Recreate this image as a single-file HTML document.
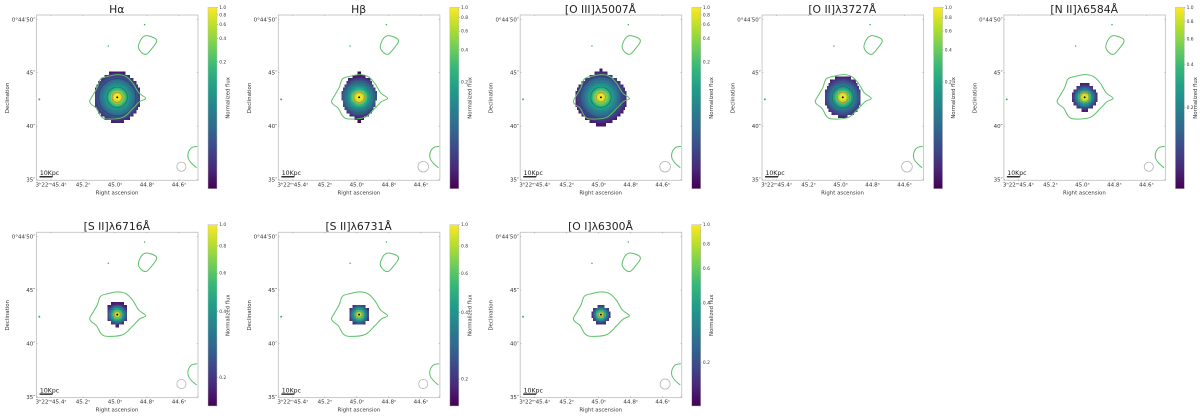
<!DOCTYPE html>
<html lang="en">
<head>
<meta charset="utf-8">
<title>Normalized emission line flux maps</title>
<style>
html,body{margin:0;padding:0;background:#fff;width:1200px;height:416px;overflow:hidden}
svg{display:block;font-family:"DejaVu Sans","Liberation Sans",sans-serif;filter:blur(0.3px)}
</style>
</head>
<body>
<svg id="chart" xmlns="http://www.w3.org/2000/svg" width="1200" height="416" viewBox="0 0 1200 416">
  <defs id="defs"></defs>
</svg>
<script>
const panelTitles = ["Hα","Hβ","[O III]λ5007Å","[O II]λ3727Å","[N II]λ6584Å","[S II]λ6716Å","[S II]λ6731Å","[O I]λ6300Å"];
const panelRows = [0,0,0,0,0,1,1,1];
const panelCols = [0,1,2,3,4,0,1,2];
const raTicks = [45.4,45.2,45.0,44.8,44.6];
const raTickLabels = ["3ʰ22ᵐ45.4ˢ","45.2ˢ","45.0ˢ","44.8ˢ","44.6ˢ"];
const decTicks = [50,45,40,35];
const decTickLabels = ["0°44′50″","45″","40″","35″"];
const cbarTicks = [1.0,0.8,0.6,0.4,0.2];
const cbarMin = [0.0047,0.02,0.0047,0.02,0.054,0.148,0.151,0.12];

const blobRa = 44.986;
const blobDec = 42.7;
const radiiArcsec = [0,0.25,0.5,0.75,1,1.5,2,2.5];
const fluxHa = [1,0.9,0.45,0.19,0.09,0.036,0.0137,0.0055];
const fluxHb = [1,0.9,0.55,0.26,0.14,0.06,0.024,0.02];
const fluxOiii = [1,0.88,0.42,0.2,0.10,0.04,0.015,0.0065];
const fluxOii = [1,0.85,0.48,0.24,0.125,0.053,0.024,0.02];
const fluxNii = [1,0.82,0.42,0.2,0.1,0.054,0.054,0.054];
const fluxSii16 = [1,0.78,0.47,0.29,0.18,0.148,0.148,0.148];
const fluxSii31 = [1,0.75,0.45,0.28,0.18,0.151,0.151,0.151];
const fluxOi = [1,0.68,0.35,0.19,0.13,0.12,0.12,0.12];
const panelFlux = [fluxHa,fluxHb,fluxOiii,fluxOii,fluxNii,fluxSii16,fluxSii31,fluxOi];

const maskHa = [2.5,4,5,6,6.5,7,7,7,7,7,7,6.5,6,5,4,2];
const maskHb = [0.5,2,3.5,4,4.5,5,5.5,5.5,5.5,5,5,4.5,4,3,1.5,0.5];
const maskOiii = [0.5,2,3.5,5,6,7,7.5,8,8,8,8,8,7.5,7,6,5,3.5,1.5];
const maskOii = [2.5,4,4.5,5,5.5,5.5,5.5,5.5,5.5,5,4.5,3.5,1.5];
const maskNii = [1.5,2.5,3.5,4,4,4,3.5,2.5,1];
const maskSii16 = [2,3,3,3,3,3,2,0.5];
const maskSii31 = [2,3,3,3,3,2];
const maskOi = [1,2.5,3,3,2.5,1.5];
const panelMasks = [maskHa,maskHb,maskOiii,maskOii,maskNii,maskSii16,maskSii31,maskOi];

const ringsHa = [0.48,0.95,1.75];
const ringsHb = [0.5,1.45];
const ringsOiii = [0.45,0.95,1.95];
const ringsOii = [0.5,1.0];
const ringsNii = [0.45];
const ringsSii16 = [0.3];
const ringsSii31 = [0.3];
const ringsOi = [0.25];
const panelRings = [ringsHa,ringsHb,ringsOiii,ringsOii,ringsNii,ringsSii16,ringsSii31,ringsOi];

const contourMainRa = [45.158,45.1375,45.110,45.090,45.044,44.981,44.929,44.8875,44.852,44.808,44.846,44.8875,44.95,45.044,45.085,45.116,45.148];
const contourMainDec = [42.35,42.91,43.63,44.41,44.66,44.82,44.63,44.0,43.13,42.6,42.29,41.66,40.82,40.66,40.88,41.66,42.04];
const contourUpperRa = [44.854,44.833,44.802,44.75,44.74,44.76,44.802,44.833];
const contourUpperDec = [47.44,48.22,48.47,48.22,47.91,47.44,46.75,46.88];
const contourEdgeRa = [44.486,44.521,44.542,44.542,44.521,44.49];
const contourEdgeDec = [38.1,37.98,37.51,36.98,36.51,36.1];
const speckRa = [44.815,45.042,45.473];
const speckDec = [49.5,47.5,42.5];
const beamRa = 44.585;
const beamDec = 36.2;
const beamRadii = [0.43,0.5,0.5,0.5,0.43,0.43,0.43,0.47];
const viridis = ["#440154","#482878","#3e4989","#31688e","#26828e","#1f9e89","#35b779","#6ece58","#b5de2b","#fde725"];

const chart = document.getElementById('chart');
const defs = document.getElementById('defs');
const NS = 'http://www.w3.org/2000/svg';
const COL_STEP = 241.85, ROW_STEP = 217.3, AX_LEFT = 36.5, AX_TOP = 15, AX_W = 161.5, AX_H = 165.3;
const PX_PER_SEC = 160, PX_PER_ARCSEC = 10.68, CELL_ARCSEC = 0.3, SUB = 2;
const CB_LEFT = 208, CB_W = 9, CB_TOP = 7.4, CB_H = 181.3;

function make(tag, attrs, parent, text){
  const el = document.createElementNS(NS, tag);
  for (const k in attrs) el.setAttribute(k, attrs[k]);
  if (text !== undefined) el.textContent = text;
  parent.appendChild(el);
  return el;
}
function xOf(col, ra){ return AX_LEFT + COL_STEP*col + 78.5 + (45 - ra)*PX_PER_SEC; }
function yOf(row, dec){ return ROW_STEP*row + 72.7 + (45 - dec)*PX_PER_ARCSEC; }
function cbarY(row, value, vmin){ return ROW_STEP*row + CB_TOP + CB_H*Math.log(value)/Math.log(vmin); }
function hexRgb(h){ return [1,3,5].map(i => parseInt(h.substr(i,2),16)); }
function viridisAt(p){
  const t = Math.max(0, Math.min(1, p))*(viridis.length-1);
  const i = Math.min(viridis.length-2, Math.floor(t));
  const a = hexRgb(viridis[i]), b = hexRgb(viridis[i+1]), f = t-i;
  return 'rgb(' + a.map((v,k) => Math.round(v+(b[k]-v)*f)).join(',') + ')';
}
function fluxAt(profile, r){
  for (let i = 1; i < radiiArcsec.length; i++){
    if (r <= radiiArcsec[i]){
      const f = (r-radiiArcsec[i-1])/(radiiArcsec[i]-radiiArcsec[i-1]);
      return Math.exp(Math.log(profile[i-1])*(1-f) + Math.log(profile[i])*f);
    }
  }
  return profile[profile.length-1];
}
function smoothPath(xs, ys, closed){
  const n = xs.length;
  const at = i => closed ? [xs[(i+n)%n], ys[(i+n)%n]] : [xs[Math.max(0,Math.min(n-1,i))], ys[Math.max(0,Math.min(n-1,i))]];
  let d = 'M' + xs[0].toFixed(2) + ' ' + ys[0].toFixed(2);
  const segs = closed ? n : n-1;
  for (let i = 0; i < segs; i++){
    const p0 = at(i-1), p1 = at(i), p2 = at(i+1), p3 = at(i+2);
    d += 'C' + (p1[0]+(p2[0]-p0[0])/6).toFixed(2) + ' ' + (p1[1]+(p2[1]-p0[1])/6).toFixed(2) + ' '
       + (p2[0]-(p3[0]-p1[0])/6).toFixed(2) + ' ' + (p2[1]-(p3[1]-p1[1])/6).toFixed(2) + ' '
       + p2[0].toFixed(2) + ' ' + p2[1].toFixed(2);
  }
  return d + (closed ? 'Z' : '');
}

const grad = make('linearGradient', {id:'viridis-grad', x1:0, y1:1, x2:0, y2:0}, defs);
viridis.forEach(function(c, i){
  make('stop', {offset: i/(viridis.length-1), 'stop-color': c}, grad);
});

panelTitles.forEach(function(title, idx){
  const col = panelCols[idx], row = panelRows[idx];
  const left = AX_LEFT + COL_STEP*col, top = AX_TOP + ROW_STEP*row;
  const midX = left + 80.8, vmin = cbarMin[idx];
  const g = make('g', {}, chart);
  
  

  const clip = make('clipPath', {id:'clip-' + idx}, defs);
  make('rect', {x:left, y:top, width:AX_W, height:AX_H}, clip);

  // flux map cells
  const map = make('g', {'shape-rendering':'crispEdges'}, g);
  
  
  const mask = panelMasks[idx], profile = panelFlux[idx];
  const subCell = CELL_ARCSEC/SUB, cellPx = subCell*PX_PER_ARCSEC;
  const rowsTotal = mask.length;
  mask.forEach(function(half, r){
    for (let s = 0; s < SUB; s++){
      const dec = blobDec + (rowsTotal/2 - r)*CELL_ARCSEC - (s+0.5)*subCell;
      const nCols = Math.round(half*2*SUB);
      for (let c = 0; c < nCols; c++){
        const offX = (-half*CELL_ARCSEC) + (c+0.5)*subCell;
        const rad = Math.hypot(offX, dec-blobDec);
        const v = fluxAt(profile, rad);
        const cell = make('rect', {
          x:(xOf(col,blobRa) + offX*PX_PER_ARCSEC - cellPx/2).toFixed(2),
          y:(yOf(row,dec) - cellPx/2).toFixed(2),
          width:(cellPx+0.15).toFixed(2), height:(cellPx+0.15).toFixed(2),
          fill:viridisAt(1 - Math.log(v)/Math.log(vmin))
        }, map);
        
        
      }
    }
  });

  // inner rings
  panelRings[idx].forEach(function(rad, k){
    const ring = make('circle', {
      cx:xOf(col,blobRa), cy:yOf(row,blobDec), r:rad*PX_PER_ARCSEC, fill:'none',
      stroke: k === 0 ? '#c9813c' : (k === 1 ? '#23705f' : '#2c4470'),
      'stroke-width':0.85, 'stroke-opacity':0.9
    }, g);
    
    
  });
  const core = make('circle', {cx:xOf(col,blobRa), cy:yOf(row,blobDec), r:0.95, fill:'#000'}, g);
  
  

  // green continuum contours
  const contours = make('g', {'clip-path':'url(#clip-' + idx + ')', fill:'none', stroke:'#5cc068', 'stroke-width':1}, g);
  
  
  const main = make('path', {d:smoothPath(contourMainRa.map(v => xOf(col,v)), contourMainDec.map(v => yOf(row,v)), true)}, contours);
  
  
  const upper = make('path', {d:smoothPath(contourUpperRa.map(v => xOf(col,v)), contourUpperDec.map(v => yOf(row,v)), true)}, contours);
  
  
  const edge = make('path', {d:smoothPath(contourEdgeRa.map(v => xOf(col,v)), contourEdgeDec.map(v => yOf(row,v)), false)}, contours);
  
  
  speckRa.forEach(function(ra, k){
    const sp = make('circle', {cx:xOf(col,ra), cy:yOf(row,speckDec[k]), r:k === 2 ? 1 : 0.75, fill:'#45b058', stroke:'none'}, g);
    
    
  });

  // beam circle
  const beam = make('circle', {cx:xOf(col,beamRa), cy:yOf(row,beamDec), r:beamRadii[idx]*PX_PER_ARCSEC, fill:'none', stroke:'#b4b4b4', 'stroke-width':0.8}, g);
  
  

  // scale bar
  const bar = make('rect', {x:left+3, y:top+161.2, width:13, height:1.2, fill:'#000'}, g);
  
  
  const barText = make('text', {x:left+3.4, y:top+160, 'font-size':6.2, fill:'#222'}, g, '10Kpc');
  
  

  // frame
  const frame = make('rect', {x:left, y:top, width:AX_W, height:AX_H, fill:'none', stroke:'#c4c4c4', 'stroke-width':0.9}, g);
  
  

  // title
  const ttl = make('text', {x:midX-0.5, y:top-2.2, 'font-size':10.8, 'text-anchor':'middle', fill:'#222'}, g, title);
  
  

  // ra ticks
  raTicks.forEach(function(ra, k){
    const x = xOf(col, ra);
    const tk = make('line', {x1:x, x2:x, y1:top+AX_H, y2:top+AX_H-1.2, stroke:'#888', 'stroke-width':0.4}, g);
    
    
    const tk2 = make('line', {x1:x, x2:x, y1:top, y2:top+1.2, stroke:'#888', 'stroke-width':0.4}, g);
    
    
    const lb = make('text', {x:x, y:top+AX_H+6, 'font-size':5.6, 'text-anchor':'middle', fill:'#333'}, g, raTickLabels[k]);
    
    
  });
  // dec ticks
  decTicks.forEach(function(dec, k){
    const y = yOf(row, dec);
    const tk = make('line', {x1:left, x2:left+1.2, y1:y, y2:y, stroke:'#888', 'stroke-width':0.4}, g);
    
    
    const tk2 = make('line', {x1:left+AX_W, x2:left+AX_W-1.2, y1:y, y2:y, stroke:'#888', 'stroke-width':0.4}, g);
    
    
    const lb = make('text', {x:left-1.2, y:y+2, 'font-size':5.5, 'text-anchor':'end', fill:'#333'}, g, decTickLabels[k]);
    
    
  });

  // axis titles
  const xt = make('text', {x:left+80.5, y:top+AX_H+14, 'font-size':5.4, 'text-anchor':'middle', fill:'#333'}, g, 'Right ascension');
  
  
  const ytX = left-27.5, ytY = top+83;
  const yt = make('text', {x:ytX, y:ytY, 'font-size':5.4, 'text-anchor':'middle', fill:'#333', transform:'rotate(-90 ' + ytX + ' ' + ytY + ')'}, g, 'Declination');
  
  

  // colorbar
  const cbLeft = CB_LEFT + COL_STEP*col, cbTop = CB_TOP + ROW_STEP*row;
  const cb = make('rect', {x:cbLeft, y:cbTop, width:CB_W, height:CB_H, fill:'url(#viridis-grad)', stroke:'#bbb', 'stroke-width':0.5}, g);
  
  
  cbarTicks.forEach(function(v){
    const y = cbarY(row, v, vmin);
    const tk = make('line', {x1:cbLeft+CB_W, x2:cbLeft+CB_W+1, y1:y, y2:y, stroke:'#777', 'stroke-width':0.4}, g);
    
    
    const lb = make('text', {x:cbLeft+CB_W+2.2, y:y+1.5, 'font-size':4.4, fill:'#333'}, g, v.toFixed(1));
    
    
  });
  const cbX = cbLeft+21.5, cbY = cbTop+90.5;
  const cbt = make('text', {x:cbX, y:cbY, 'font-size':5.3, 'text-anchor':'middle', fill:'#333', transform:'rotate(-90 ' + cbX + ' ' + cbY + ')'}, g, 'Normalized flux');
  
  
});
</script>
</body>
</html>
